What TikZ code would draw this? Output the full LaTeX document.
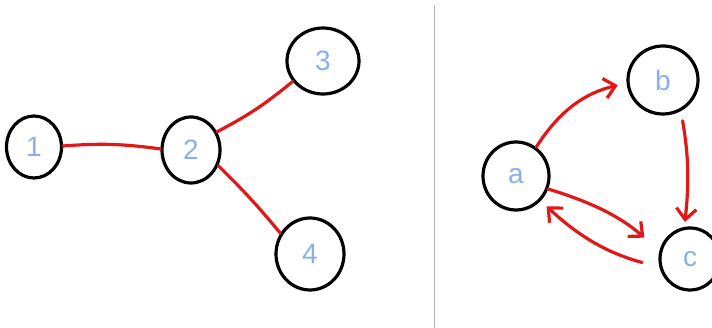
\documentclass[tikz,border=0pt]{standalone}
\usepackage{fontspec}
\setmainfont{Liberation Sans}
\usetikzlibrary{shapes.geometric,arrows.meta}
\definecolor{lbl}{HTML}{8AAEF0}
\definecolor{edgered}{HTML}{E01818}
\tikzset{
  vtx/.style={ellipse, draw=black, line width=3.2pt, inner sep=0pt, text=lbl,
    font=\fontsize{28}{28}\selectfont},
  edg/.style={draw=edgered, line width=3.2pt, line cap=round},
  arr/.style={edg, -{Straight Barb[length=11pt,width=20pt,line width=3.2pt]}},
}
\begin{document}
\begin{tikzpicture}[x=1pt,y=1pt]
\useasboundingbox (0,0) rectangle (712,328);
% left graph
\node[vtx, minimum width=55pt, minimum height=62pt] (n1) at (34,181) {1};
\node[vtx, minimum width=58pt, minimum height=66pt] (n2) at (191,178) {2};
\node[vtx, minimum width=72pt, minimum height=66pt] (n3) at (323,267) {3};
\node[vtx, minimum width=68pt, minimum height=72pt] (n4) at (310,74) {4};
\draw[edg] (n1.2) to[bend left=6] (n2.178);
\draw[edg] (n2.35) to[bend right=6] (n3.214);
\draw[edg] (n2.-30) to[bend left=3] (n4.145);
% divider
\coordinate (dtop) at (434,323);
\coordinate (dbot) at (434,0);
\draw[gray!60, line width=1pt] (dtop) -- (dbot);
% right graph
\node[vtx, minimum width=66pt, minimum height=68pt] (a) at (516,152) {a};
\node[vtx, minimum width=70pt, minimum height=68pt] (b) at (663,248) {b};
\node[vtx, minimum width=60pt, minimum height=62pt] (c) at (690,69) {c};
\draw[arr, shorten >=9pt] (a.55) to[bend left=22] (b.185);
\draw[arr, shorten <=10pt, shorten >=5pt] (b.-60) to[bend left=8] (c.100);
\draw[arr, shorten >=20pt] (a.-22) to[bend left=12] (c.165);
\draw[arr, shorten <=18pt, shorten >=8pt] (c.195) to[bend left=14] (a.-45);
\end{tikzpicture}
\end{document}
